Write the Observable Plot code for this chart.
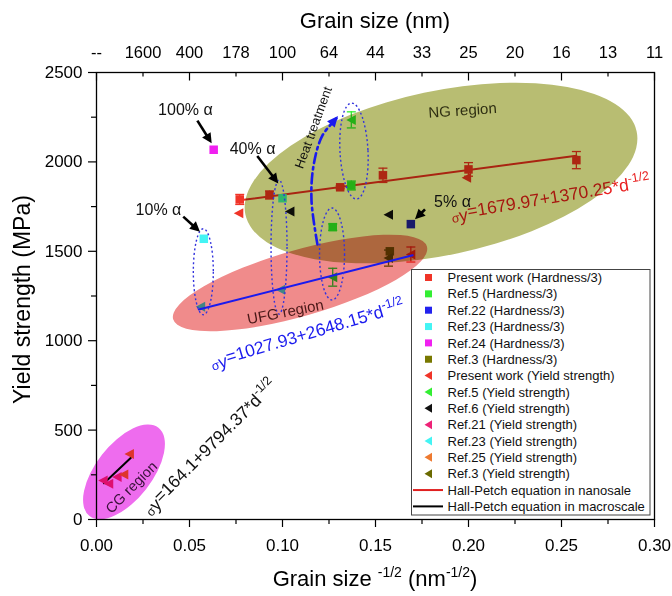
<!DOCTYPE html>
<html><head><meta charset="utf-8">
<script src="https://cdn.jsdelivr.net/npm/d3@7"></script>
<script src="https://cdn.jsdelivr.net/npm/@observablehq/plot@0.6"></script>
<style>
html,body{margin:0;padding:0;background:#fff;}
#chart svg{display:block;}
</style></head><body><div id="chart"></div>
<script>
const FONT = '"Liberation Sans", Arial, Helvetica, sans-serif';

// ---------------- data ----------------
const xMajorTicks = [0, 0.05, 0.10, 0.15, 0.20, 0.25, 0.30];
const xMinorTicks = [0.025, 0.075, 0.125, 0.175, 0.225, 0.275];
const yMajorTicks = [0, 500, 1000, 1500, 2000, 2500];
const yMinorTicks = [250, 750, 1250, 1750, 2250];
const topTicks = [0, 0.025, 0.05, 0.075, 0.10, 0.125, 0.15, 0.175, 0.20, 0.225, 0.25, 0.275, 0.30];
const topTickLabels = ["--", "1600", "400", "178", "100", "64", "44", "33", "25", "20", "16", "13", "11"];

// [x (nm^-1/2), yield strength (MPa), error]
const presentHardness = [[0.077,1790,28],[0.093,1815,22],[0.131,1858,8],[0.154,1925,40],[0.200,1958,38],[0.258,2010,48]];
const ref5Hardness   = [[0.127,1635,18],[0.137,1868,25]];
const ref22Hardness  = [[0.169,1652,0]];
const ref23Hardness  = [[0.0577,1570,0],[0.100,1797,0]];
const ref24Hardness  = [[0.063,2068,0]];
const ref3Hardness   = [[0.1577,1500,0]];
const presentYield   = [[0.0765,1713,0],[0.169,1482,42],[0.199,1911,0]];
const ref5Yield      = [[0.127,1355,50],[0.137,2235,45]];
const ref6Yield      = [[0.104,1722,0],[0.157,1704,0]];
const ref21Yield     = [[0.0036,218,0],[0.0066,200,0],[0.0111,237,0]];
const ref23Yield     = [[0.056,1190,0],[0.099,1285,0]];
const ref25Yield     = [[0.0147,252,0],[0.0177,367,0]];
const ref3Yield      = [[0.157,1462,45]];

// Hall-Petch fit lines (end points)
const hpNanoX = [0.077, 0.258],  hpNanoY = [1785, 2034];
const hpUfgX  = [0.055, 0.170],  hpUfgY  = [1174, 1478];
const hpMacroX = [0.004, 0.0185], hpMacroY = [203, 345];

// heat treatment path (data coords)
const heatX = [0.1188, 0.1156, 0.1167, 0.1215, 0.1301];
const heatY = [1538, 1784, 1980, 2148, 2254];

const seriesNames = ["Present work (Hardness/3)","Ref.5 (Hardness/3)","Ref.22 (Hardness/3)","Ref.23 (Hardness/3)","Ref.24 (Hardness/3)","Ref.3 (Hardness/3)",
  "Present work (Yield strength)","Ref.5 (Yield strength)","Ref.6 (Yield strength)","Ref.21 (Yield strength)","Ref.23 (Yield strength)","Ref.25 (Yield strength)","Ref.3 (Yield strength)"];
const seriesPts = [presentHardness, ref5Hardness, ref22Hardness, ref23Hardness, ref24Hardness, ref3Hardness,
  presentYield, ref5Yield, ref6Yield, ref21Yield, ref23Yield, ref25Yield, ref3Yield];

// ---------------- styles ----------------
const seriesColors = ["#f03428","#33ee33","#2222ee","#44f4f4","#f020f0","#787800",
  "#f03428","#33ee33","#111111","#ee2277","#44f4f4","#ee7a30","#6a6a00"];
const seriesShapes = ["square","square","square","square","square","square","tri","tri","tri","tri","tri","tri","tri"];

const bigEllipses = [
  {x:0.1855, y:1935, rx:200, ry:82, angle:-12, fill:"#b8bd72"},
  {x:0.1097, y:1320, rx:132, ry:33, angle:-16, fill:"#f08b8b"},
  {x:0.01505, y:263, rx:56, ry:28, angle:-52, fill:"#ee6cee"}
];
const dottedEllipses = [
  {x:0.0577, y:1383, rx:10, ry:43, angle:0},
  {x:0.0984, y:1521, rx:8, ry:67, angle:0},
  {x:0.1269, y:1482, rx:12.5, ry:46, angle:0},
  {x:0.1387, y:2058, rx:14, ry:48, angle:-3}
];
const labels = [
  {text:"100% α", x:0.0478, y:2293, rotate:0, size:16, fill:"#111"},
  {text:"40% α", x:0.0839, y:2075, rotate:0, size:16, fill:"#111"},
  {text:"10% α", x:0.0333, y:1734, rotate:0, size:16, fill:"#111"},
  {text:"5% α", x:0.1914, y:1779, rotate:0, size:16, fill:"#111"},
  {text:"Heat treatment", x:0.1167, y:2192, rotate:-70, size:13, fill:"#111"},
  {text:"NG region", x:0.1968, y:2287, rotate:-4, size:15, fill:"#2e2e12"},
  {text:"UFG region", x:0.1016, y:1160, rotate:-11, size:15, fill:"#4a1818"},
  {text:"CG region", x:0.0188, y:179, rotate:-45, size:14.5, fill:"#3a123a"}
];
const pointerArrows = [
  {x1:0.0545, y1:2228, x2:0.0622, y2:2101},
  {x1:0.0867, y1:2030, x2:0.0980, y2:1877},
  {x1:0.0469, y1:1691, x2:0.0559, y2:1607},
  {x1:0.1769, y1:1732, x2:0.1715, y2:1676}
];
const equations = [
  {x:0.1914, y:1672, angle:-9.5, color:"#e82020", body:"=1679.97+1370.25*d"},
  {x:0.0624, y:845, angle:-16.5, color:"#1a1aee", body:"=1027.93+2648.15*d"},
  {x:0.0285, y:22, angle:-45, color:"#111111", body:"=164.1+9794.37*d"}
];

// ---------------- build ----------------
const rows = seriesPts.flatMap((pts, s) => pts.map(([x, y, err]) => ({x, y, err, color: seriesColors[s], shape: seriesShapes[s]})));
const sqRows = rows.filter(d => d.shape === "square");
const triRows = rows.filter(d => d.shape === "tri");
const errRows = rows.filter(d => d.err > 0);
const toPts = (X, Y) => X.map((x, i) => ({x, y: Y[i]}));
const topLabelMap = new Map(topTicks.map((t, i) => [t, topTickLabels[i]]));

const triLeft = {draw(c, size) { const r = Math.sqrt(size / Math.PI); c.moveTo(-r, 0); c.lineTo(r * 0.9, -r); c.lineTo(r * 0.9, r); c.closePath(); }};
const capSym = {draw(c) { c.moveTo(-4.5, 0); c.lineTo(4.5, 0); }};
const tickDown8 = {draw(c) { c.moveTo(0, 0); c.lineTo(0, 8); }};
const tickDown4 = {draw(c) { c.moveTo(0, 0); c.lineTo(0, 4); }};

function ellipses(specs, style) {
  return (index, scales) => {
    const g = d3.create("svg:g");
    for (const e of specs) {
      const cx = scales.x(e.x), cy = scales.y(e.y);
      const el = g.append("ellipse").attr("cx", cx).attr("cy", cy).attr("rx", e.rx).attr("ry", e.ry)
        .attr("transform", `rotate(${e.angle} ${cx} ${cy})`);
      style(el, e);
    }
    return g.node();
  };
}

// straight pointer arrows with filled heads (positions via scales)
function pointers(specs, color, width, headLen, headHalf, drawShaft = true) {
  return (index, scales) => {
    const g = d3.create("svg:g");
    for (const a of specs) {
      const x1 = scales.x(a.x1), y1 = scales.y(a.y1), x2 = scales.x(a.x2), y2 = scales.y(a.y2);
      const L = Math.hypot(x2 - x1, y2 - y1), ux = (x2 - x1) / L, uy = (y2 - y1) / L;
      const bx = x2 - ux * headLen, by = y2 - uy * headLen;
      if (drawShaft) g.append("line").attr("x1", x1).attr("y1", y1).attr("x2", bx + ux).attr("y2", by + uy)
        .attr("stroke", color).attr("stroke-width", width);
      g.append("path").attr("d", `M${x2},${y2}L${bx - uy * headHalf},${by + ux * headHalf}L${bx + uy * headHalf},${by - ux * headHalf}Z`)
        .attr("fill", color);
    }
    return g.node();
  };
}

function equationMark(eqs) {
  return (index, scales) => {
    const g = d3.create("svg:g").attr("font-family", FONT).attr("text-anchor", "start");
    for (const e of eqs) {
      const px = scales.x(e.x), py = scales.y(e.y);
      const t = g.append("text").attr("transform", `translate(${px},${py}) rotate(${e.angle})`)
        .attr("fill", e.color).attr("font-size", 17.5).attr("text-anchor", "start");
      t.append("tspan").attr("font-size", 12.5).attr("dy", 3).text("σ");
      t.append("tspan").text("y");
      t.append("tspan").attr("dy", -3).text(e.body);
      t.append("tspan").attr("font-size", 12.5).attr("dy", -7.5).text("-1/2");
    }
    return g.node();
  };
}

function titles(index, scales, values, d) {
  const g = d3.create("svg:g").attr("font-family", FONT).attr("fill", "black").attr("text-anchor", "middle");
  const cx = (d.marginLeft + d.width - d.marginRight) / 2;
  const cy = (d.marginTop + d.height - d.marginBottom) / 2;
  g.append("text").attr("x", cx).attr("y", 28).attr("font-size", 22).text("Grain size (nm)");
  const b = g.append("text").attr("x", cx).attr("y", d.height - 10).attr("font-size", 22);
  b.append("tspan").text("Grain size ");
  b.append("tspan").attr("font-size", 14).attr("dy", -9).text("-1/2");
  b.append("tspan").attr("dy", 9).text(" (nm");
  b.append("tspan").attr("font-size", 14).attr("dy", -9).text("-1/2");
  b.append("tspan").attr("dy", 9).text(")");
  g.append("text").attr("transform", `translate(30,${cy + 4}) rotate(-90)`).attr("font-size", 23).text("Yield strength (MPa)");
  return g.node();
}

function legend() {
  const g = d3.create("svg:g").attr("font-family", FONT).attr("text-anchor", "start");
  g.append("rect").attr("x", 411.5).attr("y", 269.5).attr("width", 238.5).attr("height", 245.5)
    .attr("fill", "white").attr("stroke", "#444").attr("stroke-width", 1);
  const items = seriesNames.map((n, i) => ({name: n, kind: seriesShapes[i], color: seriesColors[i]}))
    .concat([{name: "Hall-Petch equation in nanosale", kind: "line", color: "#e02020"},
             {name: "Hall-Petch equation in macroscale", kind: "line", color: "#000"}]);
  items.forEach((it, i) => {
    const y = 277.5 + i * 16.35;
    if (it.kind === "square") g.append("rect").attr("x", 425).attr("y", y - 3.5).attr("width", 7).attr("height", 7).attr("fill", it.color);
    else if (it.kind === "tri") g.append("path").attr("d", `M424.5,${y}L432,${y - 4.5}L432,${y + 4.5}Z`).attr("fill", it.color);
    else g.append("line").attr("x1", 413).attr("x2", 443).attr("y1", y).attr("y2", y).attr("stroke", it.color).attr("stroke-width", 2);
    g.append("text").attr("x", 447.5).attr("y", y + 4.6).attr("font-size", 13).attr("fill", "#111").text(it.name);
  });
  return g.node();
}

const nH = heatX.length;
const heatHead = [{x1: heatX[nH - 2], y1: heatY[nH - 2], x2: heatX[nH - 1], y2: heatY[nH - 1]}];

const marks = [
  // layer 1: data under the regions
  Plot.line(toPts(hpNanoX, hpNanoY), {x: "x", y: "y", stroke: "#ea3024", strokeWidth: 2}),
  Plot.line(toPts(hpMacroX, hpMacroY), {x: "x", y: "y", stroke: "#000", strokeWidth: 2}),
  Plot.ruleX(errRows, {x: "x", y1: d => d.y - d.err, y2: d => d.y + d.err, stroke: "color", strokeWidth: 1.3}),
  Plot.dot(errRows, {x: "x", y: d => d.y - d.err, symbol: capSym, stroke: "color", fill: "none", strokeWidth: 1.3}),
  Plot.dot(errRows, {x: "x", y: d => d.y + d.err, symbol: capSym, stroke: "color", fill: "none", strokeWidth: 1.3}),
  Plot.dot(sqRows, {x: "x", y: "y", symbol: "square", r: 4.8, fill: "color", stroke: "none"}),
  Plot.dot(triRows, {x: "x", y: "y", symbol: triLeft, r: 5, fill: "color", stroke: "none"}),
  equationMark(equations.slice(0, 1)),
  // layer 2: translucent regions (multiply)
  ellipses(bigEllipses, (el, e) => el.attr("fill", e.fill).style("mix-blend-mode", "multiply")),
  // layer 3: overlays
  Plot.line(toPts(hpUfgX, hpUfgY), {x: "x", y: "y", stroke: "#1a1aee", strokeWidth: 2}),
  ellipses(dottedEllipses, el => el.attr("fill", "none").attr("stroke", "#3333dd").attr("stroke-width", 1.4).attr("stroke-dasharray", "2,2.5")),
  Plot.line(toPts(heatX, heatY), {x: "x", y: "y", curve: "catmull-rom", stroke: "#1a1aee", strokeWidth: 2.6, strokeDasharray: "10,4,2.5,4"}),
  pointers(heatHead, "#1a1aee", 2.6, 11, 5, false),
  pointers(pointerArrows, "#000", 2.6, 10, 5),
  ...labels.map(a => Plot.text([a], {x: "x", y: "y", text: "text", rotate: a.rotate, fontSize: a.size, fill: a.fill})),
  equationMark(equations.slice(1)),
  // axes
  Plot.axisX({anchor: "bottom", ticks: xMajorTicks, tickFormat: d => d.toFixed(2), tickSize: 8, tickPadding: 11, fontSize: 17, label: null, strokeWidth: 1.2}),
  Plot.axisX({anchor: "bottom", ticks: xMinorTicks, tickFormat: () => "", tickSize: 5, label: null, strokeWidth: 1.2}),
  Plot.axisY({anchor: "left", ticks: yMajorTicks, tickFormat: d => String(d), tickSize: 8, tickPadding: 6, fontSize: 17, label: null, strokeWidth: 1.2}),
  Plot.axisY({anchor: "left", ticks: yMinorTicks, tickFormat: () => "", tickSize: 5, label: null, strokeWidth: 1.2}),
  Plot.axisX({anchor: "top", ticks: topTicks, tickFormat: d => topLabelMap.get(d), tickSize: 0, tickPadding: 15, fontSize: 16.5, label: null}),
  Plot.dot(topTicks.filter((t, i) => i % 2 === 0).map(x => ({x})), {x: "x", frameAnchor: "top", symbol: tickDown8, stroke: "#000", fill: "none", strokeWidth: 1.2}),
  Plot.dot(topTicks.filter((t, i) => i % 2 === 1).map(x => ({x})), {x: "x", frameAnchor: "top", symbol: tickDown4, stroke: "#000", fill: "none", strokeWidth: 1.2}),
  Plot.frame({stroke: "#000", strokeWidth: 1.3}),
  titles,
  legend
];

const chart = Plot.plot({
  width: 672, height: 596,
  marginTop: 72, marginRight: 18, marginBottom: 77, marginLeft: 96,
  style: {fontFamily: FONT, background: "white", color: "black"},
  x: {domain: [0, 0.3]},
  y: {domain: [0, 2500]},
  color: {type: "identity"},
  marks
});
document.getElementById("chart").appendChild(chart);
</script>
</body></html>
